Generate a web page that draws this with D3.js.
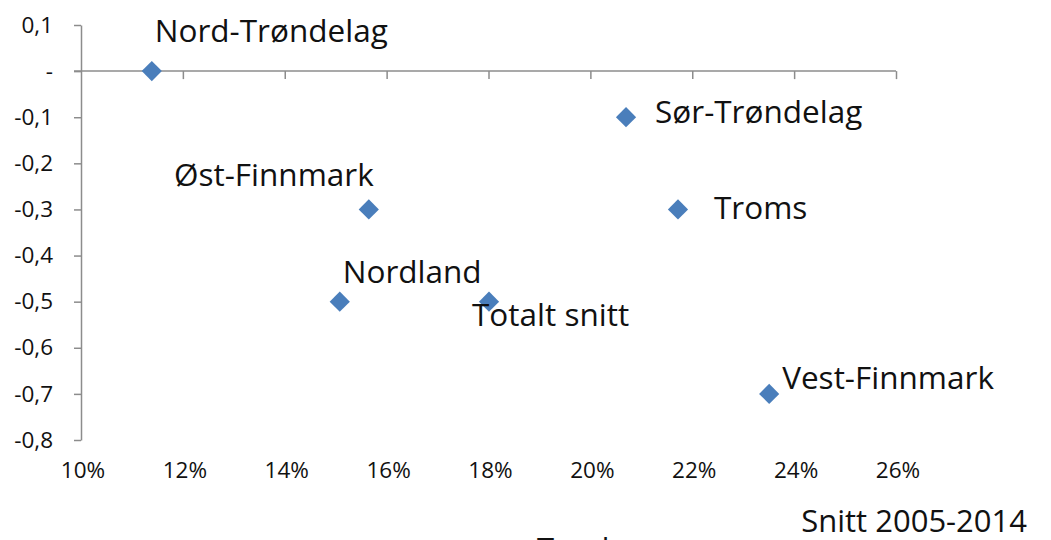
<!DOCTYPE html>
<html><head><meta charset="utf-8">
<script src="https://cdn.jsdelivr.net/npm/d3@7"></script>
<style>body{margin:0;background:#fff}svg{display:block}</style>
</head><body><svg id="c" width="1051" height="540"></svg>
<script>
const names = ["Nord-Trøndelag","Sør-Trøndelag","Øst-Finnmark","Troms","Nordland","Totalt snitt","Vest-Finnmark"];
const snitt = [11.39, 20.70, 15.65, 21.72, 15.08, 18.01, 23.51];
const tendens = [0, -0.1, -0.3, -0.3, -0.5, -0.5, -0.7];
const xTicks = [10,12,14,16,18,20,22,24,26];
const yTicks = [0.1,0,-0.1,-0.2,-0.3,-0.4,-0.5,-0.6,-0.7,-0.8];
const yTickLabels = ["0,1","-","-0,1","-0,2","-0,3","-0,4","-0,5","-0,6","-0,7","-0,8"];
const xTitle = "Snitt 2005-2014";
const yTitle = "Tendens";
// label placement [dx, dy, anchor]
const labelPos = [[3,-29,"start"],[29,6,"start"],[5,-23,"end"],[36,10,"start"],[3,-19,"start"],[-17,24,"start"],[13,-5,"start"]];

const svg = d3.select("#c");
const font = "'Open Sans', sans-serif";
const axisCol = "#8c8c8c";
const txtCol = "#111";
const x = d3.scaleLinear().domain([10,26]).range([81,896]);
const y = d3.scaleLinear().domain([0.1,-0.8]).range([25,440]);

// y axis
const ya = svg.append("g").attr("transform","translate(81,0)")
  .call(d3.axisLeft(y).tickValues(yTicks).tickSize(7).tickSizeOuter(0).tickFormat((d,i)=>yTickLabels[i]));
ya.select(".domain").attr("stroke",axisCol).attr("stroke-width",1.5);
ya.selectAll(".tick line").attr("stroke",axisCol).attr("stroke-width",1.5);
ya.selectAll(".tick text").attr("x",-28).attr("font-family",font).attr("font-size",22.5).attr("fill",txtCol);

// x axis at y=0
const xa = svg.append("g").attr("transform",`translate(0,${y(0)})`)
  .call(d3.axisBottom(x).tickValues(xTicks.slice(1)).tickSize(8).tickSizeOuter(0).tickFormat(""));
xa.select(".domain").attr("stroke",axisCol).attr("stroke-width",1.5).attr("d",`M74,0H${x(26)}`);
xa.selectAll(".tick line").attr("stroke",axisCol).attr("stroke-width",1.5);

// x tick labels at bottom
svg.append("g").selectAll("text").data(xTicks).join("text")
  .attr("x",d=>x(d)+2).attr("y",478).attr("text-anchor","middle")
  .attr("font-family",font).attr("font-size",22.5).attr("fill",txtCol)
  .text(d=>d+"%");

// points
const pts = names.map((n,i)=>({n, x:snitt[i], y:tendens[i], p:labelPos[i]}));
svg.append("g").selectAll("path").data(pts).join("path")
  .attr("transform",d=>`translate(${x(d.x)},${y(d.y)})`)
  .attr("d",d3.symbol().type(d3.symbolDiamond2).size(260))
  .attr("fill","#4a7ebb");

svg.append("g").selectAll("text").data(pts).join("text")
  .attr("x",d=>x(d.x)+d.p[0]).attr("y",d=>y(d.y)+d.p[1])
  .attr("text-anchor",d=>d.p[2])
  .attr("font-family",font).attr("font-size",31.5).attr("fill",txtCol)
  .text(d=>d.n);

svg.append("text").attr("x",1027).attr("y",532).attr("text-anchor","end")
  .attr("font-family",font).attr("font-size",31).attr("fill",txtCol).text(xTitle);
svg.append("text").attr("x",537).attr("y",560)
  .attr("font-family",font).attr("font-size",31).attr("fill",txtCol).text(yTitle);
</script></body></html>
